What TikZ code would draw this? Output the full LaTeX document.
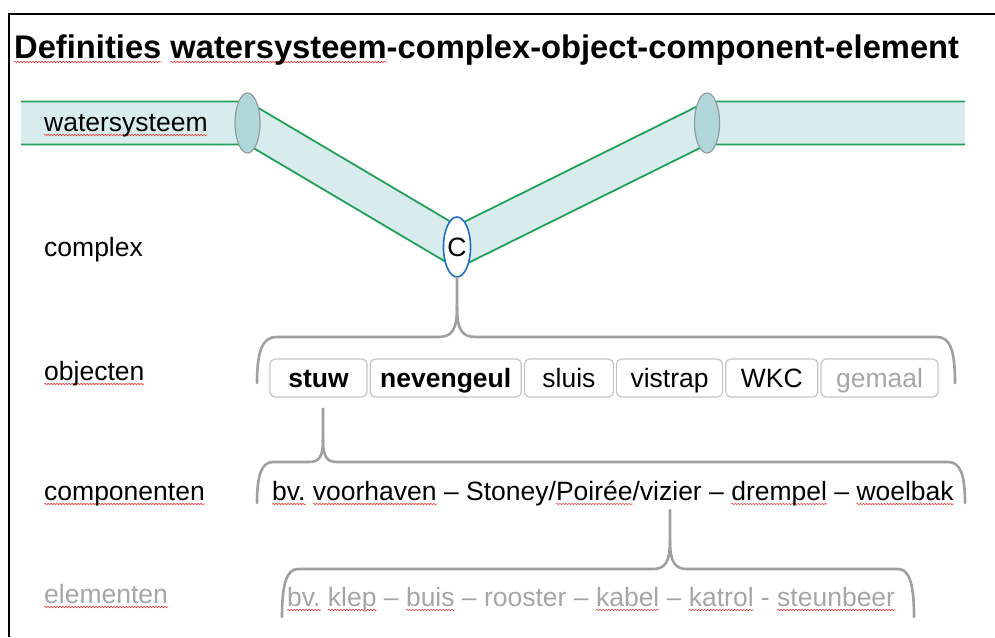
\documentclass[tikz,border=0pt]{standalone}
\usepackage{fontspec}
\setmainfont{Liberation Sans}
\usetikzlibrary{positioning,shapes.geometric,backgrounds,decorations.pathmorphing}
\definecolor{bandfill}{HTML}{D8ECEE}
\definecolor{bandline}{HTML}{22A05A}
\definecolor{ringfill}{HTML}{B2D7DB}
\definecolor{ringdraw}{HTML}{8E9C9E}
\definecolor{cblue}{HTML}{1F6FC4}
\definecolor{accgray}{HTML}{A0A0A0}
\definecolor{boxgray}{HTML}{C4C4C4}
\definecolor{txtgray}{HTML}{A6A6A6}
\definecolor{sqred}{HTML}{F04848}
% spell-check squiggle
\newbox\sqbox
\newdimen\sqw
\newcommand\sq[1]{\setbox\sqbox=\hbox{#1}\sqw=\wd\sqbox
  \rlap{\tikz[overlay,baseline=0pt]\draw[sqred,line width=0.6pt,decorate,
    decoration={snake,amplitude=0.8pt,segment length=3pt}] (0pt,-4pt) -- (\sqw,-4pt);}%
  \box\sqbox\relax}
\newcommand\txt{\fontsize{26.5}{30}\selectfont}

\begin{document}
\begin{tikzpicture}[x=1pt,y=-1pt,
  lbl/.style={anchor=base west,inner sep=0pt,font=\txt},
  ring/.style={ellipse,draw=ringdraw,fill=ringfill,line width=1.2pt,
               minimum width=25pt,minimum height=60pt,inner sep=0pt},
  obj/.style={draw=boxgray,rounded corners=5pt,line width=1.2pt,minimum height=38pt,
              inner sep=0pt,text height=20pt,text depth=2pt,font=\txt},
  vet/.style={font=\txt\bfseries},
  band/.style={bandline,line width=1.8pt,line join=round},
  accol/.style={accgray,line width=2.6pt,line cap=round}]
\useasboundingbox (0,0) rectangle (995,637);
\draw[line width=1.5pt] (9,637) -- (9,14) -- (995,14);

\node[lbl,font=\fontsize{32.7}{36}\selectfont\bfseries] (titel) at (14,58)
  {\sq{Definities} \sq{watersysteem}-complex-object-component-element};

% watersysteem band
\coordinate (bw) at (21,123);
\coordinate (be) at (965,123);
\node[ring] (wl) at (247.5,123) {};
\node[ring] (wr) at (707,123) {};
\node[ellipse,draw=cblue,fill=white,line width=1.6pt,minimum width=25pt,
      minimum height=60pt,inner sep=0pt,font=\txt] (c) at (457,247) {C};
\begin{scope}[on background layer]
\fill[bandfill] ([yshift=21.5pt]bw) -- ([yshift=21.5pt]wl.center) -- ([yshift=21.5pt]c.center)
  -- ([yshift=21.5pt]wr.center) -- ([yshift=21.5pt]be) -- ([yshift=-21.5pt]be)
  -- ([yshift=-21.5pt]wr.center) -- ([yshift=-21.5pt]c.center) -- ([yshift=-21.5pt]wl.center)
  -- ([yshift=-21.5pt]bw) -- cycle;
\foreach \s in {21.5,-21.5}
  \draw[band] ([yshift=\s pt]bw) -- ([yshift=\s pt]wl.center) -- ([yshift=\s pt]c.center)
    -- ([yshift=\s pt]wr.center) -- ([yshift=\s pt]be);
\end{scope}

% niveaus
\node[lbl] (lws) at (44,131) {\sq{watersysteem}};
\node[lbl] (lcx) at (44,256) {complex};
\node[lbl] (lob) at (44,380) {\sq{objecten}};
\node[lbl] (lco) at (44,500) {\sq{componenten}};
\node[lbl,text=txtgray] (lel) at (44,603) {\sq{elementen}};

% objecten
\node[obj,vet,minimum width=97pt] (stuw) at (318.5,378) {stuw};
\node[obj,vet,minimum width=151pt,right=2pt of stuw] (neven) {nevengeul};
\node[obj,minimum width=89pt,right=2pt of neven] (sluis) {sluis};
\node[obj,minimum width=106pt,right=2pt of sluis] (vistrap) {vistrap};
\node[obj,minimum width=92pt,right=2pt of vistrap] (wkc) {WKC};
\node[obj,minimum width=117pt,right=2pt of wkc,text=txtgray] (gemaal) {gemaal};

\node[lbl] (comp) at (272,500)
  {\sq{bv.} \sq{voorhaven} – Stoney/\sq{Poirée}/vizier – \sq{drempel} – \sq{woelbak}};
\node[lbl,text=txtgray] (elem) at (287,606)
  {\sq{bv.} \sq{klep} – \sq{buis} – rooster – \sq{kabel} – \sq{katrol} - \sq{steunbeer}};

% accolades
\draw[accol] (c.south) -- (457,307) .. controls (457,330) and (452,337) .. (438,337)
  -- (276,337) .. controls (263,337) and (257,350) .. (257,383);
\draw[accol] (457,307) .. controls (457,330) and (462,337) .. (476,337)
  -- (937,337) .. controls (950,337) and (955,350) .. (955,383);
\draw[accol] ([xshift=4.5pt,yshift=-11pt]stuw.south) -- (323,440)
  .. controls (323,457) and (319,462) .. (309,462)
  -- (273,462) .. controls (262,462) and (257,474) .. (257,503);
\draw[accol] (323,440) .. controls (323,457) and (327,462) .. (337,462)
  -- (948,462) .. controls (960,462) and (965,474) .. (965,503);
\draw[accol] (670,510) -- (670,541) .. controls (670,562) and (665,569) .. (653,569)
  -- (298,569) .. controls (287,569) and (282,583) .. (282,617);
\draw[accol] (670,541) .. controls (670,562) and (675,569) .. (687,569)
  -- (898,569) .. controls (909,569) and (914,583) .. (914,617);
\end{tikzpicture}
\end{document}
